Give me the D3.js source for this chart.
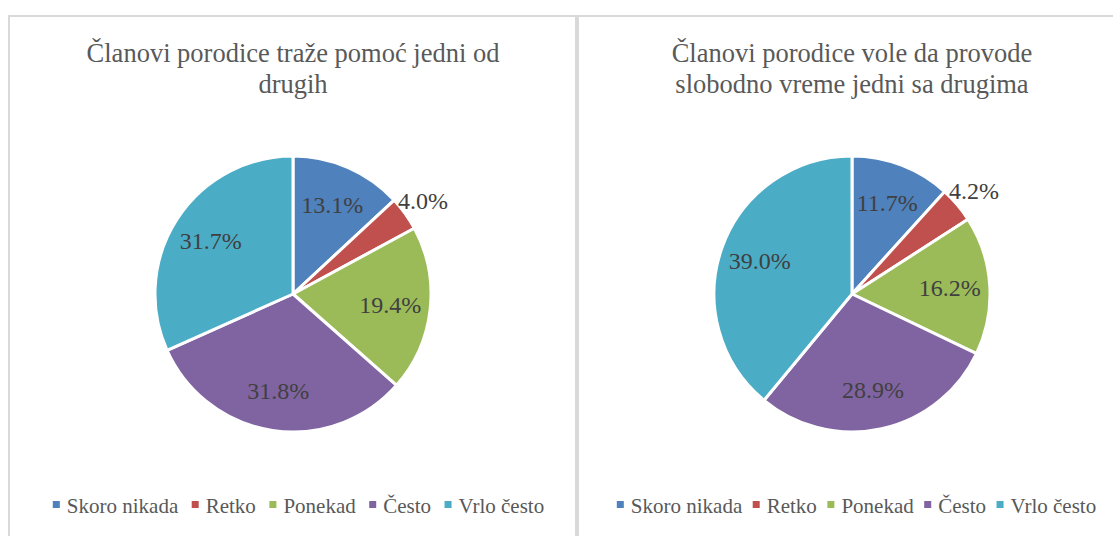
<!DOCTYPE html>
<html><head><meta charset="utf-8">
<script src="https://cdn.jsdelivr.net/npm/d3@7"></script>
<style>body{margin:0;background:#fff;}svg{display:block;}</style>
</head><body>
<svg id="c" width="1113" height="536"></svg>
<script>
const categories = ["Skoro nikada", "Retko", "Ponekad", "Često", "Vrlo često"];
const colors = ["#4F81BD", "#C0504D", "#9BBB59", "#8064A2", "#4BACC6"];
const titleLeft = ["Članovi porodice traže pomoć jedni od", "drugih"];
const titleRight = ["Članovi porodice vole da provode", "slobodno vreme jedni sa drugima"];
const valuesLeft = [13.1, 4.0, 19.4, 31.8, 31.7];
const valuesRight = [11.7, 4.2, 16.2, 28.9, 39.0];

const svg = d3.select("#c");
const textCol = "#595959";
const FONT = "Liberation Serif";

const panels = [
  {x0: 9, x1: 576, cx: 293, title: titleLeft, values: valuesLeft, legendCx: 298.5, gap: 13.5},
  {x0: 578, x1: 1140, cx: 852, title: titleRight, values: valuesRight, legendCx: 856.5, gap: 10.5}
];
const cy = 294, R = 138;

panels.forEach(p => {
  const g = svg.append("g");
  g.append("rect").attr("x", p.x0).attr("y", 16).attr("width", p.x1 - p.x0).attr("height", 600)
    .attr("fill", "#fff").attr("stroke", "#d9d9d9").attr("stroke-width", 2);

  g.selectAll("text.title").data(p.title).join("text").attr("class", "title")
    .attr("x", p.cx).attr("y", (d, i) => 62 + i * 31)
    .attr("text-anchor", "middle").style("font-family", FONT).style("font-size", "26.5px")
    .attr("fill", textCol).text(d => d);

  const pie = d3.pie().sort(null).value(d => d)(p.values);
  const arc = d3.arc().innerRadius(0).outerRadius(R);
  const pg = g.append("g").attr("transform", `translate(${p.cx},${cy})`);
  pg.selectAll("path").data(pie).join("path")
    .attr("d", arc).attr("fill", (d, i) => colors[i])
    .attr("stroke", "#fff").attr("stroke-width", 3).attr("stroke-linejoin", "round");

  const inner = d3.arc().innerRadius(98).outerRadius(98);
  const outer = d3.arc().innerRadius(160).outerRadius(160);
  pg.selectAll("text").data(pie).join("text")
    .attr("transform", d => `translate(${(d.data < 6 ? outer : inner).centroid(d)})`)
    .attr("text-anchor", "middle").attr("dy", "0.35em")
    .style("font-family", FONT).style("font-size", "24px").attr("fill", "#404040")
    .text(d => d3.format(".1f")(d.data) + "%");

  const lg = g.append("g");
  const items = lg.selectAll("g").data(categories).join("g");
  items.append("rect").attr("width", 7).attr("height", 7).attr("y", -6)
    .attr("fill", (d, i) => colors[i]);
  items.append("text").attr("x", 14).attr("y", 0).attr("dy", "0.3em")
    .style("font-family", FONT).style("font-size", "21px").attr("fill", textCol).text(d => d);
  let x = 0;
  items.each(function() {
    const w = this.querySelector("text").getComputedTextLength();
    d3.select(this).attr("transform", `translate(${x},0)`);
    x += 14 + w + p.gap;
  });
  const total = x - p.gap;
  lg.attr("transform", `translate(${p.legendCx - total / 2},${507})`);
});
</script>
</body></html>
